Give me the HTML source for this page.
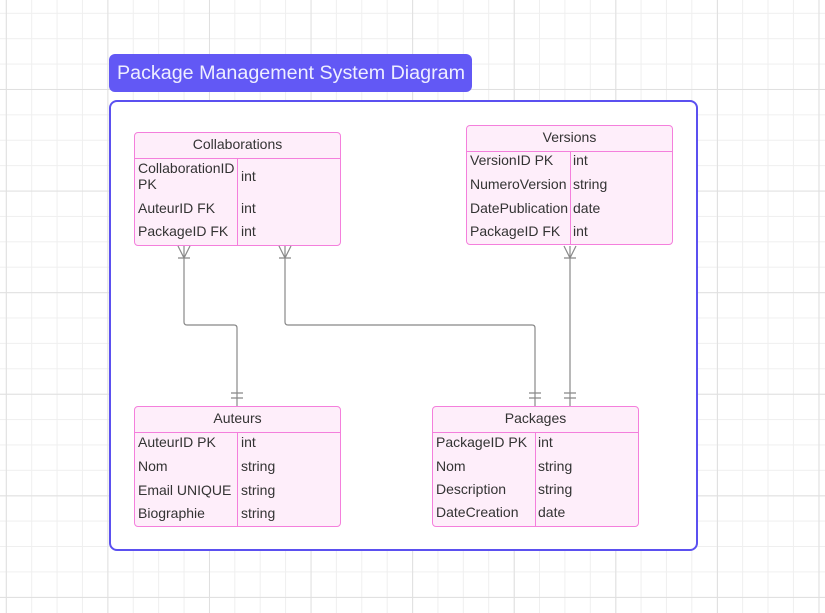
<!DOCTYPE html>
<html><head><meta charset="utf-8"><style>
body{margin:0;width:825px;height:613px;overflow:hidden;position:relative;font-family:"Liberation Sans",sans-serif;
background-color:#fff;
background-image:linear-gradient(#e0e0e0 1px,transparent 1px),linear-gradient(90deg,#e0e0e0 1px,transparent 1px),linear-gradient(#efefef 1px,transparent 1px),linear-gradient(90deg,#efefef 1px,transparent 1px);
background-size:101.6px 101.6px,101.6px 101.6px,25.4px 25.4px,25.4px 25.4px;
background-position:0 89px,5.8px 0,0 12.8px,5.8px 0;}
.title{position:absolute;left:109px;top:54px;width:363px;height:38px;background:#6258f5;border-radius:6px;color:#eef;font-size:19.7px;line-height:38px;box-sizing:border-box;padding-left:8px;}
.frame{position:absolute;left:109px;top:100px;width:589px;height:451px;border:2.5px solid #5b50f0;border-radius:8px;box-sizing:border-box;background:#fff;}
.t{position:absolute;background:#feeefa;border:1.5px solid #f47fdc;border-radius:4px;box-sizing:border-box;color:#333;font-size:14px;}
.h{position:absolute;left:0;right:0;top:0;border-bottom:1.5px solid #f47fdc;text-align:center;box-sizing:border-box;}
.v{position:absolute;top:0;bottom:0;border-left:1.5px solid #f47fdc;}
.c{position:absolute;white-space:nowrap;line-height:16px;}
</style></head><body>
<div class="title">Package Management System Diagram</div>
<div class="frame"></div>

<div class="t" style="left:134px;top:132px;width:207px;height:114px">
<div class="h" style="height:26px;line-height:22px">Collaborations</div>
<div class="v" style="left:102px;top:25px"></div>
<div class="c" style="left:3px;top:27px">CollaborationID<br>PK</div><div class="c" style="left:106px;top:35px">int</div>
<div class="c" style="left:3px;top:67px">AuteurID FK</div><div class="c" style="left:106px;top:67px">int</div>
<div class="c" style="left:3px;top:90px">PackageID FK</div><div class="c" style="left:106px;top:90px">int</div>
</div>

<div class="t" style="left:466px;top:125px;width:207px;height:120px">
<div class="h" style="height:26px;line-height:22px">Versions</div>
<div class="v" style="left:103px;top:25px"></div>
<div class="c" style="left:3px;top:26px">VersionID PK</div><div class="c" style="left:106px;top:26px">int</div>
<div class="c" style="left:3px;top:50px">NumeroVersion</div><div class="c" style="left:106px;top:50px">string</div>
<div class="c" style="left:3px;top:74px">DatePublication</div><div class="c" style="left:106px;top:74px">date</div>
<div class="c" style="left:3px;top:97px">PackageID FK</div><div class="c" style="left:106px;top:97px">int</div>
</div>

<div class="t" style="left:134px;top:406px;width:207px;height:121px">
<div class="h" style="height:26px;line-height:22px">Auteurs</div>
<div class="v" style="left:102px;top:25px"></div>
<div class="c" style="left:3px;top:27px">AuteurID PK</div><div class="c" style="left:106px;top:27px">int</div>
<div class="c" style="left:3px;top:51px">Nom</div><div class="c" style="left:106px;top:51px">string</div>
<div class="c" style="left:3px;top:75px">Email UNIQUE</div><div class="c" style="left:106px;top:75px">string</div>
<div class="c" style="left:3px;top:98px">Biographie</div><div class="c" style="left:106px;top:98px">string</div>
</div>

<div class="t" style="left:432px;top:406px;width:207px;height:121px">
<div class="h" style="height:26px;line-height:22px">Packages</div>
<div class="v" style="left:102px;top:25px"></div>
<div class="c" style="left:3px;top:27px">PackageID PK</div><div class="c" style="left:105px;top:27px">int</div>
<div class="c" style="left:3px;top:51px">Nom</div><div class="c" style="left:105px;top:51px">string</div>
<div class="c" style="left:3px;top:74px">Description</div><div class="c" style="left:105px;top:74px">string</div>
<div class="c" style="left:3px;top:97px">DateCreation</div><div class="c" style="left:105px;top:97px">date</div>
</div>

<svg style="position:absolute;left:0;top:0" width="825" height="613">
<g fill="none" stroke="#888" stroke-width="1.2">
<path d="M184 246 V322 Q184 325 187 325 H234 Q237 325 237 328 V406"/>
<path d="M285 246 V322 Q285 325 288 325 H532 Q535 325 535 328 V406"/>
<path d="M570 246 V406"/>
<path d="M178 246 L184 258 L190 246 M178 258 H190"/>
<path d="M279 246 L285 258 L291 246 M279 258 H291"/>
<path d="M564 246 L570 258 L576 246 M564 258 H576"/>
<path d="M231 393 H243 M231 398 H243"/>
<path d="M529 393 H541 M529 398 H541"/>
<path d="M564 393 H576 M564 398 H576"/>
</g></svg>
</body></html>
